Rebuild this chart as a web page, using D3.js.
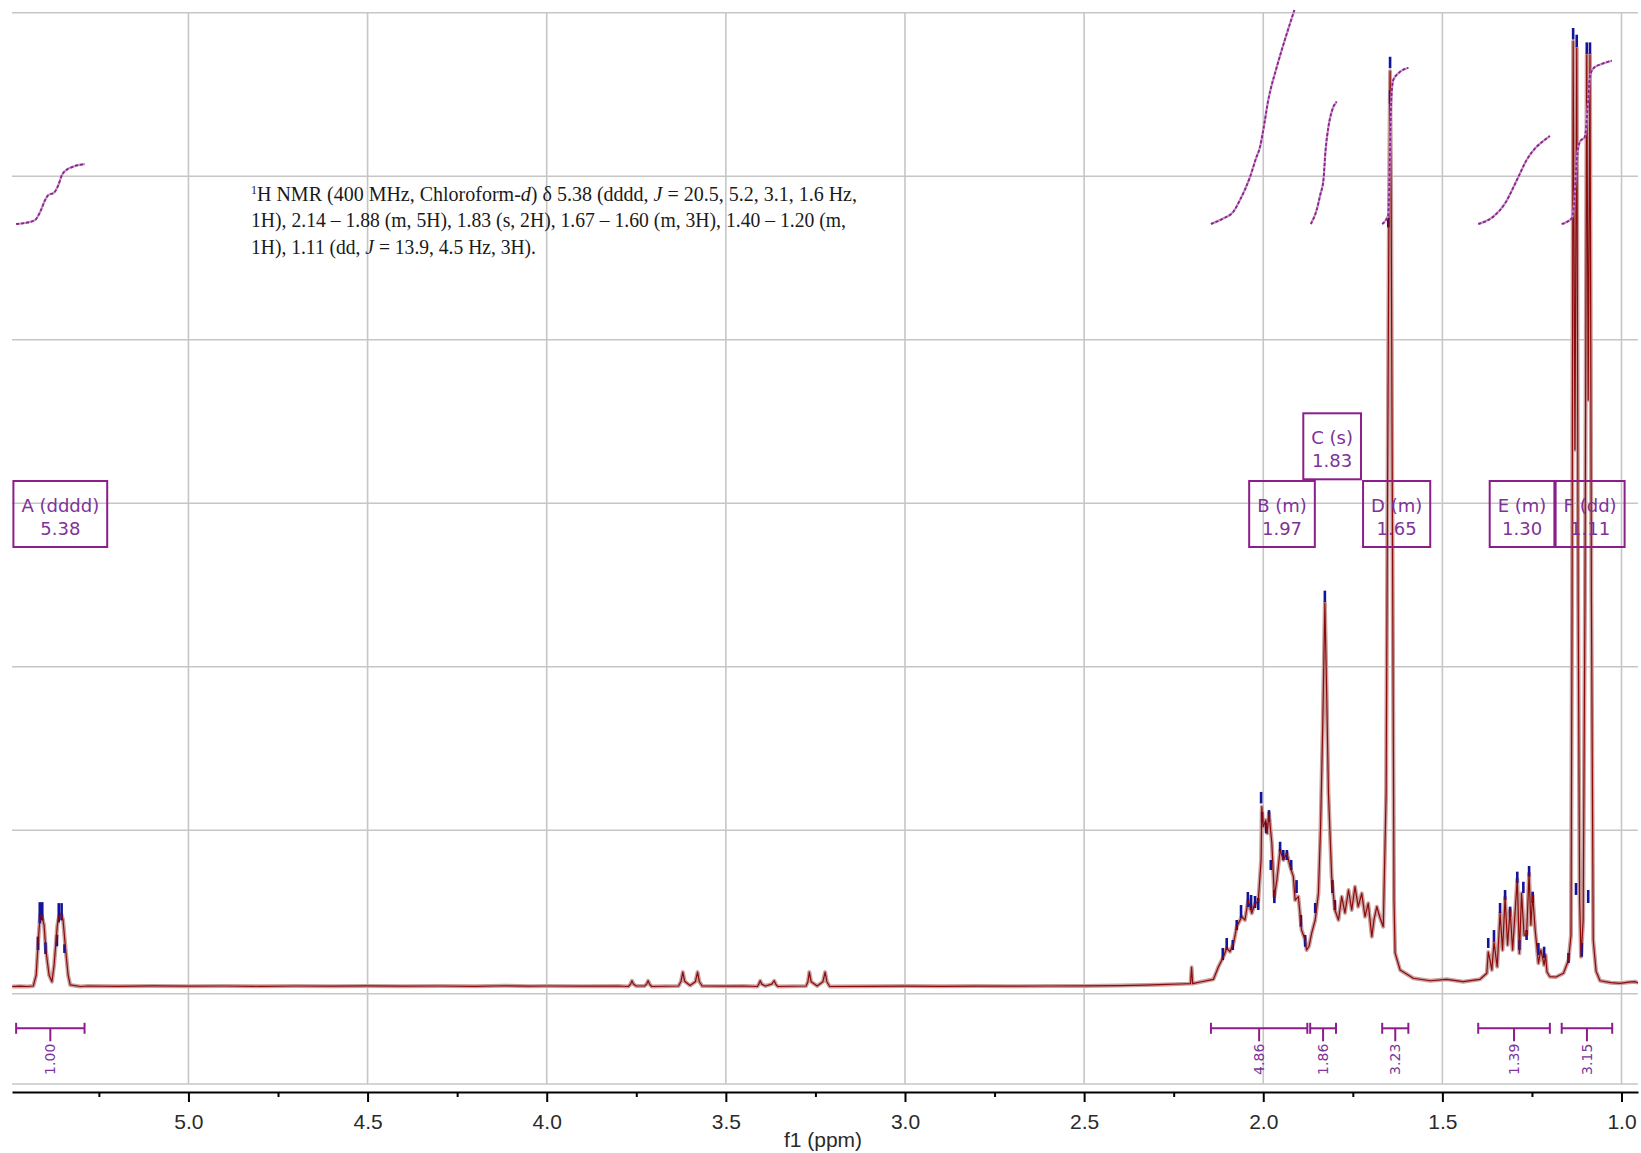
<!DOCTYPE html>
<html><head><meta charset="utf-8">
<script src="https://cdn.jsdelivr.net/npm/d3@7"></script>
<style>html,body{margin:0;padding:0;background:#fff;} svg{display:block}</style>
</head><body>
<svg id="chart" width="1641" height="1153"></svg>
<script>
// ---------- DATA ----------
const majorTicks = [5.0, 4.5, 4.0, 3.5, 3.0, 2.5, 2.0, 1.5, 1.0];
const minorTicks = [5.25, 4.75, 4.25, 3.75, 3.25, 2.75, 2.25, 1.75, 1.25];
const gridRows = [0, 1, 2, 3, 4, 5, 6];

// spectrum: [ppm, intensity]
const specA = [[5.492,0],[5.470,0.03],[5.450,0],[5.433,0.05],[5.425,1.2],[5.420,4.33],[5.414,7.46],[5.409,7.36],[5.403,6.4],[5.398,3.81],[5.389,1.2],[5.381,0.5],[5.375,2.24],[5.366,6.4],[5.361,7.36],[5.355,7.56],[5.350,6.94],[5.344,4.33],[5.336,1.2],[5.330,0.16],[5.302,0]];
const specBase1 = [[5.28,0.05],[5.20,0.02],[5.10,0.06],[5.00,0.03],[4.90,0.05],[4.80,0.02],[4.70,0.05],[4.60,0.03],[4.50,0.06],[4.40,0.03],[4.30,0.05],[4.20,0.02],[4.12,0.08],[4.05,0.03],[4.00,0.05],[3.90,0.03],[3.80,0.05]];
const specImpurities = [[3.772,0],[3.766,0.25],[3.762,0.6],[3.758,0.25],[3.750,0.05],[3.727,0.05],[3.721,0.25],[3.717,0.6],[3.713,0.25],[3.707,0],
 [3.632,0.05],[3.625,0.55],[3.620,1.5],[3.615,0.55],[3.600,0.1],[3.585,0.5],[3.579,1.5],[3.574,0.5],[3.566,0.05],
 [3.50,0.03],[3.45,0.05],
 [3.412,0],[3.408,0.25],[3.404,0.6],[3.400,0.25],[3.390,0.05],[3.372,0.25],[3.365,0.6],[3.361,0.25],[3.355,0],
 [3.276,0.05],[3.271,0.5],[3.267,1.5],[3.262,0.5],[3.245,0.05],[3.229,0.5],[3.223,1.5],[3.218,0.5],[3.210,0]];
const specBase2 = [[3.10,0.02],[3.00,0.04],[2.90,0.02],[2.80,0.04],[2.70,0.03],[2.60,0.05],[2.50,0.06],[2.40,0.1],[2.33,0.15],[2.27,0.22],[2.232,0.26],[2.203,0.3],[2.200,2.0],[2.197,0.3],[2.176,0.47]];
const specBC = [[2.139,0.75],[2.125,2.07],[2.111,3.11],[2.102,3.99],[2.093,3.63],[2.083,4.51],[2.074,6.24],[2.060,7.28],[2.051,6.94],[2.042,9.02],[2.032,7.64],[2.023,8.68],[2.014,8.85],[2.006,13.2],[2.004,18.76],[2.000,16.67],[1.993,17.37],[1.989,15.98],[1.984,18.07],[1.976,14.94],[1.969,9.37],[1.962,11.11],[1.953,14.24],[1.944,13.2],[1.934,13.9],[1.925,12.5],[1.916,11.46],[1.911,9.02],[1.902,9.37],[1.893,5.89],[1.883,4.85],[1.879,3.81],[1.872,4.23],[1.865,5.55],[1.855,6.94],[1.846,9.72],[1.840,16.67],[1.834,27.1],[1.828,40.0],[1.823,30.6],[1.818,20.16],[1.809,11.46],[1.800,7.98],[1.790,6.94],[1.781,9.37],[1.772,7.67],[1.762,10.07],[1.753,7.98],[1.744,10.41],[1.735,8.33],[1.725,9.72],[1.716,7.28],[1.707,8.68],[1.697,5.2],[1.691,6.94],[1.683,8.33],[1.674,7.15],[1.665,6.24]];
const specD = [[1.657,20.19],[1.654,44.5],[1.649,82.0],[1.646,95.5],[1.643,82.0],[1.639,44.5],[1.635,9.0],[1.632,3.5],[1.618,1.72],[1.581,0.86],[1.534,0.6],[1.488,0.75],[1.442,0.5],[1.395,0.75]];
const specE = [[1.376,1.38],[1.372,3.6],[1.367,2.76],[1.362,1.72],[1.356,4.6],[1.347,2.07],[1.339,7.64],[1.332,3.81],[1.325,9.3],[1.318,4.33],[1.311,7.98],[1.304,3.81],[1.291,11.2],[1.285,3.46],[1.279,9.72],[1.272,5.37],[1.265,5.37],[1.258,11.8],[1.253,6.42],[1.248,9.5],[1.241,5.89],[1.232,2.42],[1.225,3.81],[1.216,2.24],[1.212,3.3],[1.208,1.51],[1.200,1.02],[1.183,0.99],[1.162,1.38],[1.148,2.76]];
const specF = [[1.141,5.37],[1.138,40.3],[1.135,98.6],[1.130,56.0],[1.125,97.9],[1.121,40.3],[1.117,9.0],[1.113,3.11],[1.107,6.94],[1.102,40.3],[1.097,97.2],[1.093,61.2],[1.088,97.2],[1.084,40.3],[1.079,4.85],[1.071,1.6],[1.060,0.6],[1.030,0.4],[1.004,0.33],[0.980,0.45],[0.962,0.5],[0.954,0.37]];

// blue peak-tip marks: [ppm, top, bottom]
const blueTips = [
 [5.420,5.2,3.8],[5.415,8.8,6.6],[5.408,8.8,6.9],[5.399,4.6,3.4],[5.367,5.4,4.2],[5.362,8.7,6.7],[5.354,8.7,6.9],[5.346,4.4,3.5],
 [2.113,4.02,2.76],[2.102,5.06,3.81],[2.085,4.85,3.81],[2.074,6.94,5.89],[2.062,8.5,7.15],[2.043,9.86,8.29],[2.034,9.55,7.98],[2.023,9.44,8.19],[2.014,9.23,7.98],
 [2.006,20.3,19.1],[2.003,18.2,17.1],[1.992,17.1,16.0],[1.984,18.4,17.2],[1.979,13.2,12.15],[1.969,10.07,8.7],[1.953,15.1,14.06],[1.944,14.24,13.2],[1.934,14.24,13.2],
 [1.922,13.2,12.15],[1.907,11.1,9.75],[1.895,7.46,6.24],[1.883,5.37,4.15],[1.855,8.71,7.67],[1.828,41.3,40.1],[1.807,11.1,9.75],[1.800,9.02,7.98],
 [1.646,97.0,95.8],[1.646,93.5,92.1],[1.651,80.2,79.2],
 [1.372,5.06,4.02],[1.356,5.89,4.67],[1.339,8.71,7.67],[1.325,10.07,9.02],[1.311,8.33,7.28],[1.291,11.98,10.8],[1.285,4.85,3.81],[1.274,10.93,9.75],
 [1.265,5.89,4.85],[1.258,12.57,11.46],[1.248,9.89,8.71],[1.232,4.54,3.29],[1.216,4.15,2.97],
 [1.148,3.5,2.45],[1.127,10.8,9.55],[1.111,4.54,3.11],[1.093,10.07,8.71],
 [1.135,100,98.8],[1.125,99.3,98.0],[1.097,98.5,97.3],[1.088,98.5,97.3]];

// integral curves: [ppm, cumulative integral (arbitrary units)]
const intCurveA = [[5.481,0],[5.456,0.47],[5.428,1.87],[5.414,5.6],[5.400,11.2],[5.391,13.55],[5.376,14.5],[5.364,17.8],[5.353,22.9],[5.341,25.2],[5.325,26.6],[5.289,28.0]];
const intCurveB = [[2.146,0],[2.111,2.66],[2.084,5.6],[2.065,11.2],[2.037,21.96],[2.020,30.8],[2.009,36.0],[2.000,43.9],[1.986,57.9],[1.962,73.5],[1.934,89.1],[1.913,100]];
const intCurveC = [[1.867,0],[1.851,6.54],[1.841,13.55],[1.832,20.56],[1.826,34.6],[1.818,45.5],[1.809,52.5],[1.795,57.2]];
const intCurveD = [[1.668,0],[1.651,4.2],[1.648,20.6],[1.645,43.9],[1.642,60.3],[1.637,67.3],[1.623,70.4],[1.595,73.0]];
const intCurveE = [[1.400,0],[1.358,3.41],[1.325,9.67],[1.292,20.56],[1.265,29.9],[1.241,35.4],[1.222,38.3],[1.200,41.1]];
const intCurveF = [[1.167,0],[1.139,2.66],[1.133,8.08],[1.125,29.9],[1.116,38.5],[1.102,40.8],[1.095,53.3],[1.088,68.8],[1.079,72.7],[1.055,74.8],[1.027,76.3]];

// integration ranges
const integralFrom = [5.481, 2.146, 1.869, 1.668, 1.400, 1.167];
const integralTo   = [5.290, 1.877, 1.797, 1.595, 1.200, 1.026];
const integralValues = ["1.00", "4.86", "1.86", "3.23", "1.39", "3.15"];

// multiplet labels
const peakLetters = ["A", "B", "C", "D", "E", "F"];
const peakMult = ["dddd", "m", "s", "m", "m", "dd"];
const peakShifts = [5.38, 1.97, 1.83, 1.65, 1.30, 1.11];

// report text
const reportLines = [
 [["sup","1"],["n","H NMR (400 MHz, Chloroform-"],["i","d"],["n",") δ 5.38 (dddd, "],["i","J"],["n"," = 20.5, 5.2, 3.1, 1.6 Hz,"]],
 [["n","1H), 2.14 – 1.88 (m, 5H), 1.83 (s, 2H), 1.67 – 1.60 (m, 3H), 1.40 – 1.20 (m,"]],
 [["n","1H), 1.11 (dd, "],["i","J"],["n"," = 13.9, 4.5 Hz, 3H)."]]
];
const reportWidths = [606, 595, 285];

// ---------- LAYOUT ----------
const W = 1641, H = 1153;
const plotL = 12, plotR = 1638, plotT = 12.7, plotB = 1084;
const svg = d3.select("#chart");
const x = d3.scaleLinear().domain([5.4925, 0.954]).range([plotL, plotR]);
const y = d3.scaleLinear().domain([0, 100]).range([986.5, 28]);
const yInt = d3.scaleLinear().domain([0, 100]).range([224, 10]);
const gridY = d3.scaleLinear().domain([0, 6]).range([plotT, 993.7]);
const purple = "#8b1e8b";
const purpleText = "#7d3399";

svg.append("defs").append("clipPath").attr("id","clip")
  .append("rect").attr("x",plotL).attr("y",0).attr("width",plotR-plotL).attr("height",plotB);

// grid
const grid = svg.append("g").attr("stroke","#c6c6c6").attr("stroke-width",1.6);
grid.selectAll("line.v").data(majorTicks).join("line").attr("class","v")
  .attr("x1",d=>x(d)).attr("x2",d=>x(d)).attr("y1",plotT).attr("y2",plotB);
grid.selectAll("line.h").data(gridRows).join("line").attr("class","h")
  .attr("x1",plotL).attr("x2",plotR).attr("y1",d=>gridY(d)).attr("y2",d=>gridY(d));
grid.append("line").attr("x1",plotL).attr("x2",plotR).attr("y1",plotB).attr("y2",plotB);

// report text
const rep = svg.append("g").attr("font-family","'Liberation Serif', 'Times New Roman', serif")
  .attr("font-size",20).attr("fill","#1a1a1a");
reportLines.forEach((parts,i)=>{
  const t = rep.append("text").attr("x",251).attr("y",201 + i*26.3)
    .attr("textLength",reportWidths[i]).attr("lengthAdjust","spacingAndGlyphs");
  parts.forEach(([k,s])=>{
    const ts = t.append("tspan").text(s);
    if(k==="sup"){ ts.attr("font-size",12).attr("dy",-7); }
    else if(k==="i"){ ts.attr("font-style","italic"); }
    if(k!=="sup" && parts[0][0]==="sup" && parts.indexOf(parts.find(p=>p[1]===s))===1) ts.attr("dy",7);
  });
});

// spectrum
const specAll = [].concat(specA, specBase1, specImpurities, specBase2, specBC, specD, specE, specF);
const line = d3.line().x(d=>x(d[0])).y(d=>y(d[1]));
const sg = svg.append("g").attr("clip-path","url(#clip)");
sg.append("path").datum(specAll).attr("d",line).attr("fill","none")
  .attr("stroke","#c9a0a0").attr("stroke-width",4).attr("stroke-linejoin","round");
sg.selectAll("line.tip").data(blueTips).join("line").attr("class","tip")
  .attr("x1",d=>x(d[0])).attr("x2",d=>x(d[0])).attr("y1",d=>y(d[1])).attr("y2",d=>y(d[2]))
  .attr("stroke","#14149a").attr("stroke-width",2.6);
sg.append("path").datum(specAll).attr("d",line).attr("fill","none")
  .attr("stroke","#8b0a0a").attr("stroke-width",1.2).attr("stroke-linejoin","round");

// integral curves
const iline = d3.line().x(d=>x(d[0])).y(d=>yInt(d[1])).curve(d3.curveMonotoneX);
const curves = [intCurveA,intCurveB,intCurveC,intCurveD,intCurveE,intCurveF];
const ig = svg.append("g").attr("clip-path","url(#clip)");
ig.selectAll("path.bg").data(curves).join("path").attr("class","bg")
  .attr("d",d=>iline(d.map(p=>[p[0],p[1]]).sort((a,b)=>b[0]-a[0]))).attr("fill","none")
  .attr("stroke","#c890c8").attr("stroke-width",2.2);
ig.selectAll("path.fg").data(curves).join("path").attr("class","fg")
  .attr("d",d=>iline(d.map(p=>[p[0],p[1]]).sort((a,b)=>b[0]-a[0]))).attr("fill","none")
  .attr("stroke","#8a248c").attr("stroke-width",1.8).attr("stroke-dasharray","3,2");

// integration bars
const barY = 1028.3;
const bars = svg.append("g");
integralFrom.forEach((f,i)=>{
  const x1 = x(f), x2 = x(integralTo[i]), cx = (x1+x2)/2;
  const g = bars.append("g").attr("stroke",purple).attr("stroke-width",2).attr("fill","none");
  g.append("line").attr("x1",x1).attr("x2",x2).attr("y1",barY).attr("y2",barY);
  g.append("line").attr("x1",x1).attr("x2",x1).attr("y1",barY-5.5).attr("y2",barY+5.5);
  g.append("line").attr("x1",x2).attr("x2",x2).attr("y1",barY-5.5).attr("y2",barY+5.5);
  g.append("line").attr("x1",cx).attr("x2",cx).attr("y1",barY).attr("y2",barY+13);
  bars.append("text").attr("transform",`translate(${cx},${barY+31}) rotate(-90)`)
    .attr("text-anchor","middle").attr("dominant-baseline","central")
    .attr("font-family","'DejaVu Sans', sans-serif").attr("font-size",14).attr("fill",purpleText)
    .text(integralValues[i]);
});

// multiplet label boxes
const lab = svg.append("g");
const placed = [];
const boxH = 66, row0Top = 481, rowStep = 67.7;
peakLetters.forEach((L,i)=>{
  const t1 = `${L} (${peakMult[i]})`, t2 = peakShifts[i].toFixed(2);
  const g = lab.append("g");
  const a = g.append("text").attr("font-family","'DejaVu Sans', sans-serif").attr("font-size",18)
    .attr("fill",purpleText).attr("text-anchor","middle").attr("dominant-baseline","central").text(t1);
  const b = g.append("text").attr("font-family","'DejaVu Sans', sans-serif").attr("font-size",18)
    .attr("fill",purpleText).attr("text-anchor","middle").attr("dominant-baseline","central").text(t2);
  const w = Math.max(a.node().getComputedTextLength(), b.node().getComputedTextLength()) + 16;
  const cx = x(peakShifts[i]) + 8;
  let left = Math.max(plotL, cx - w/2);
  let row = 0;
  while(placed.some(p=>p.row===row && left < p.right-4 && left+w > p.left+4)) row++;
  placed.push({left, right:left+w, row});
  const top = row0Top - row*rowStep;
  g.insert("rect","text").attr("x",left).attr("y",top).attr("width",w).attr("height",boxH)
    .attr("fill","none").attr("stroke",purple).attr("stroke-width",2);
  a.attr("x",left+w/2).attr("y",top+24);
  b.attr("x",left+w/2).attr("y",top+47);
});

// axis
const axG = svg.append("g").attr("transform",`translate(0,1092)`);
axG.call(d3.axisBottom(x).tickValues(majorTicks).tickFormat(d3.format(".1f"))
  .tickSize(10).tickSizeOuter(0).tickPadding(11.6));
axG.select(".domain").attr("stroke","#000").attr("stroke-width",2.2);
axG.selectAll(".tick line").attr("stroke","#000").attr("stroke-width",2);
axG.selectAll(".tick text").attr("font-family","'Liberation Sans', Arial, sans-serif")
  .attr("font-size",21).attr("fill","#2a2a2a");
const axM = svg.append("g").attr("transform",`translate(0,1092)`);
axM.call(d3.axisBottom(x).tickValues(minorTicks).tickFormat("").tickSize(5).tickSizeOuter(0));
axM.select(".domain").remove();
axM.selectAll(".tick line").attr("stroke","#000").attr("stroke-width",2);

svg.append("text").attr("x",823).attr("y",1146.5).attr("text-anchor","middle")
  .attr("font-family","'Liberation Sans', Arial, sans-serif").attr("font-size",21).attr("fill","#2a2a2a")
  .text("f1 (ppm)");
</script>
</body></html>
